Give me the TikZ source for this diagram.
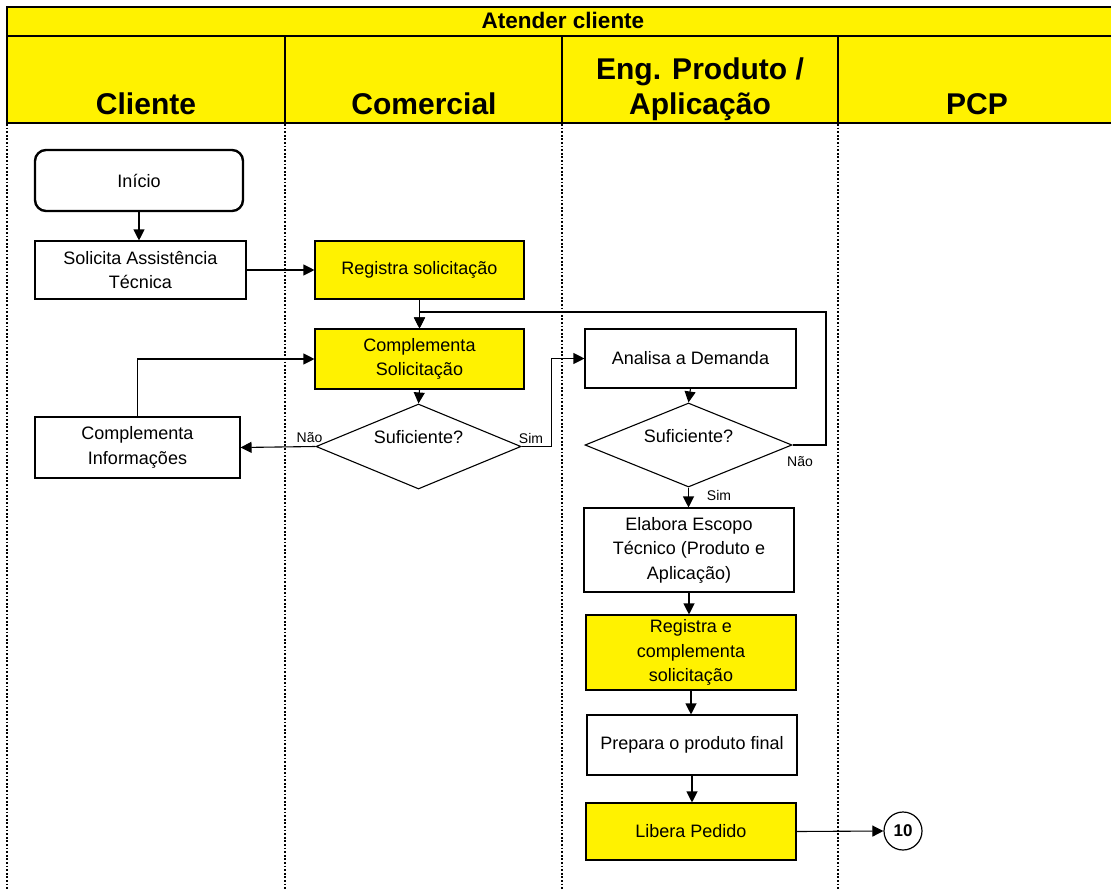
\documentclass[tikz,border=0pt]{standalone}
\usepackage{fontspec}
\setmainfont{Liberation Sans}
\usetikzlibrary{shapes.geometric,arrows.meta}

\begin{document}
\begin{tikzpicture}[x=1pt,y=-1pt,
  box/.style={draw=black,line width=1.1pt,fill=white,align=center,
    font=\fontsize{18}{24.5}\selectfont,inner sep=2pt},
  ybox/.style={box,fill=yellow},
  startbox/.style={box,rounded corners=11pt,line width=2.4pt},
  dia/.style={draw=black,line width=1.1pt,fill=white,shape=diamond,inner sep=0pt},
  dtext/.style={font=\fontsize{18}{22}\selectfont,inner sep=0pt},
  lbl/.style={font=\fontsize{14}{16}\selectfont,inner sep=0pt},
  hdr/.style={font=\fontsize{30}{35}\selectfont\bfseries,inner sep=0pt,anchor=base},
  arr/.style={draw=black,line width=1.1pt,-{Triangle[length=11pt,width=11pt]}},
  lane/.style={draw=black,line width=1.3pt,dash pattern=on 1.8pt off 1.8pt},
  frame/.style={draw=black,line width=1.6pt}
]
\useasboundingbox (0,0) rectangle (1111,889);
\clip (0,0) rectangle (1111,889);

% header band
\fill[yellow] (7,7) rectangle (1125,123);
\draw[frame] (1125,7) -- (7,7) -- (7,123) -- (1125,123);
\draw[frame] (7,36) -- (1125,36);
\foreach \x in {285,562,838} \draw[frame] (\x,36) -- (\x,123);
\node[font=\fontsize{22.5}{26}\selectfont\bfseries,inner sep=0pt,anchor=base] (title) at (563,28) {Atender cliente};
\node[hdr] (hcli) at (146,114) {Cliente};
\node[hdr] (hcom) at (424,114) {Comercial};
\node[hdr] (heng1) at (700,79) {Eng. Produto /};
\node[hdr] (heng2) at (700,114) {Aplicação};
\node[hdr] (hpcp) at (977,114) {PCP};

% swimlane separators
\foreach \x in {7,285,562,838} \draw[lane] (\x,124) -- (\x,889);

% process steps
\node[startbox,minimum width=208pt,minimum height=61pt] (ini) at (139,180.5) {Início};
\node[box,minimum width=211pt,minimum height=58pt] (sol) at (140.5,270) {Solicita Assistência\\Técnica};
\node[ybox,minimum width=209pt,minimum height=58pt] (reg) at (419.5,270) {Registra solicitação};
\node[ybox,minimum width=209pt,minimum height=60pt] (cs) at (419.5,359) {Complementa\\Solicitação};
\node[dia,minimum width=205pt,minimum height=85pt] (d1) at (418.5,446.5) {};
\node[dtext] (d1t) at (418.5,437) {Suficiente?};
\node[box,minimum width=205pt,minimum height=61pt] (ci) at (137.5,447.5) {Complementa\\Informações};
\node[box,minimum width=211pt,minimum height=59pt] (an) at (690.5,358.5) {Analisa a Demanda};
\node[dia,minimum width=207pt,minimum height=84pt] (d2) at (688.5,445) {};
\node[dtext] (d2t) at (688.5,436) {Suficiente?};
\node[box,minimum width=210pt,minimum height=84pt] (el) at (689,550) {Elabora Escopo\\Técnico (Produto e\\Aplicação)};
\node[ybox,minimum width=210pt,minimum height=75pt] (rc) at (691,652.5) {Registra e\\complementa\\solicitação};
\node[box,minimum width=210pt,minimum height=60pt] (pp) at (692,745) {Prepara o produto final};
\node[ybox,minimum width=210pt,minimum height=57pt] (lp) at (691,831.5) {Libera Pedido};
\node[circle,draw=black,line width=1.2pt,minimum size=38pt,inner sep=0pt,
  font=\fontsize{17}{19}\selectfont\bfseries] (c10) at (903,831) {10};

% branch labels
\node[lbl] (n1) at (309.5,438) {Não};
\node[lbl] (s1) at (531,438) {Sim};
\node[lbl] (n2) at (800,462) {Não};
\node[lbl] (s2) at (719,495) {Sim};

% loop-back corner
\coordinate (back) at (826,312);

% connectors
\draw[arr] (ini.south) -- (ini.south |- sol.north);
\draw[arr] (sol.east) -- (reg.west);
\draw[arr] (reg.south) -- (cs.north);
\draw[arr] (cs.south) -- (d1.north);
\draw[arr] (d1.west) -- (ci.east);
\draw[arr] (ci.north) |- (cs.west);
\draw[arr] (d1.east) -- ++(30,0) |- (an.west);
\draw[arr] (an.south) -- (d2.north);
\draw[arr] (d2.east) -| (back) -| (cs.north);
\draw[arr] (d2.south) -- (d2.south |- el.north);
\draw[arr] (el.south) -- (el.south |- rc.north);
\draw[arr] (rc.south) -- (rc.south |- pp.north);
\draw[arr] (pp.south) -- (pp.south |- lp.north);
\draw[arr] (lp.east) -- (c10.west);
\end{tikzpicture}
\end{document}
